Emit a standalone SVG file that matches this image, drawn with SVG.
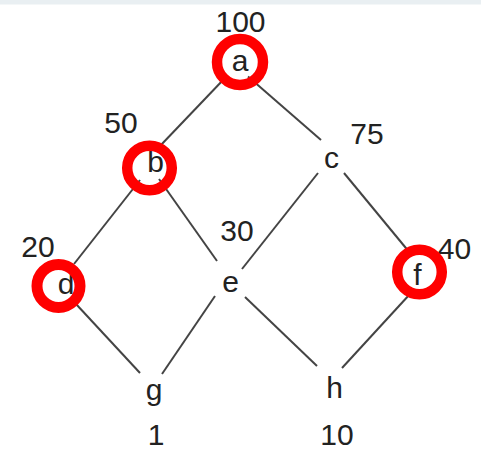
<svg xmlns="http://www.w3.org/2000/svg" width="481" height="451" viewBox="0 0 481 451">
  <style>
    .edge { stroke: #444; stroke-width: 2; fill: none; }
    .lbl { font-family: "Liberation Sans", Arial, Helvetica, sans-serif; font-size: 30px; fill: #222; text-anchor: middle; }
    .ring { fill: none; stroke: #ff0000; stroke-width: 10.5; }
  </style>
  <rect x="0" y="0" width="481" height="451" fill="#ffffff"/>
  <rect x="0" y="0" width="481" height="4.5" fill="#e9eff2"/>

  <!-- connectors -->
  <g id="edges">
    <line class="edge" x1="224" y1="79" x2="160" y2="146"/>
    <line class="edge" x1="248" y1="76.5" x2="321" y2="140"/>
    <line class="edge" x1="140" y1="180" x2="74" y2="264"/>
    <line class="edge" x1="159" y1="179" x2="217" y2="261"/>
    <line class="edge" x1="318" y1="173" x2="242" y2="269"/>
    <line class="edge" x1="344" y1="173" x2="410" y2="253"/>
    <line class="edge" x1="76" y1="304" x2="140" y2="373"/>
    <line class="edge" x1="215" y1="296" x2="162" y2="374"/>
    <line class="edge" x1="245" y1="297" x2="317" y2="366"/>
    <line class="edge" x1="410" y1="294" x2="342" y2="368"/>
  </g>

  <!-- nodes -->
  <g id="node-a">
    <text class="lbl" x="240" y="71">a</text>
    <text class="lbl" x="240.5" y="32">100</text>
    <circle class="ring" cx="240" cy="62" r="23"/>
  </g>
  <g id="node-b">
    <text class="lbl" x="155.5" y="172">b</text>
    <text class="lbl" x="121" y="133">50</text>
    <circle class="ring" cx="149.5" cy="168" r="22.3"/>
  </g>
  <g id="node-c">
    <text class="lbl" x="331.5" y="168">c</text>
    <text class="lbl" x="367" y="144">75</text>
  </g>
  <g id="node-d">
    <text class="lbl" x="66" y="294">d</text>
    <text class="lbl" x="38" y="257">20</text>
    <circle class="ring" cx="58.5" cy="286" r="21.5" style="stroke-width:11"/>
  </g>
  <g id="node-e">
    <text class="lbl" x="230.5" y="292">e</text>
    <text class="lbl" x="237" y="241">30</text>
  </g>
  <g id="node-f">
    <text class="lbl" x="417.5" y="285">f</text>
    <text class="lbl" x="454.5" y="259">40</text>
    <circle class="ring" cx="419.5" cy="272" r="22.3"/>
  </g>
  <g id="node-g">
    <text class="lbl" x="154" y="400">g</text>
    <text class="lbl" x="156" y="445">1</text>
  </g>
  <g id="node-h">
    <text class="lbl" x="334.5" y="398">h</text>
    <text class="lbl" x="337" y="445">10</text>
  </g>
</svg>
